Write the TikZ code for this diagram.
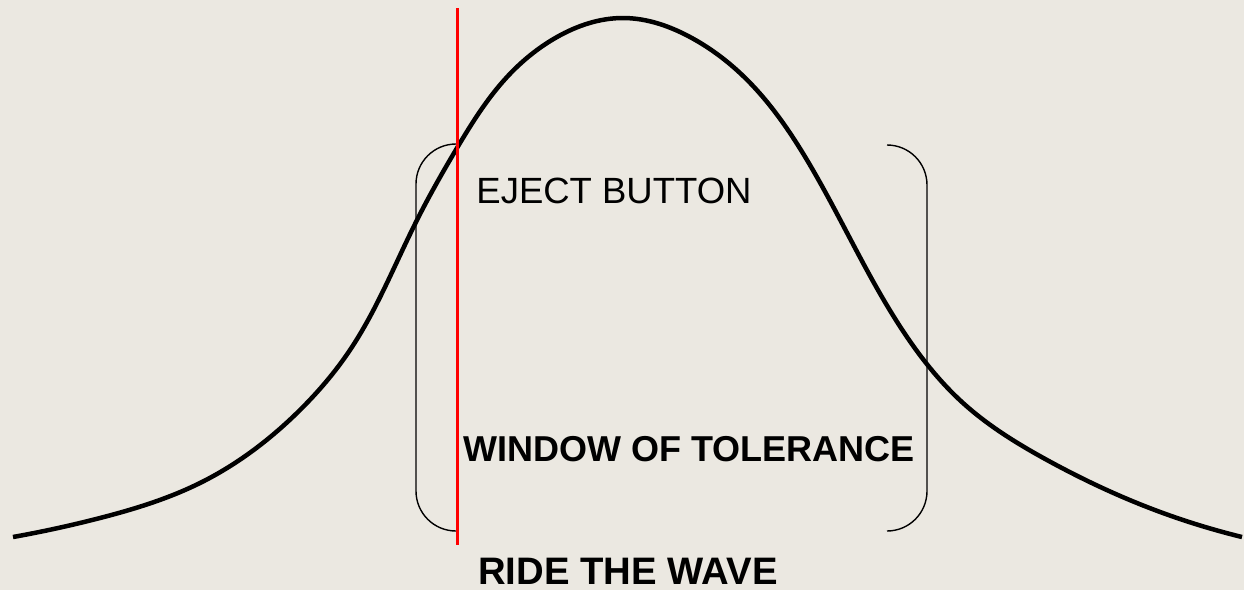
\documentclass[tikz,border=0pt]{standalone}
\usepackage{fontspec}
\setmainfont{Liberation Sans}
\usetikzlibrary{hobby}
\definecolor{paper}{HTML}{EBE8E1}
\definecolor{ejectred}{HTML}{FF0000}
\begin{document}
\begin{tikzpicture}[
		x=1pt, y=-1pt,
		wave/.style={line width=4.5pt, line join=round, use Hobby shortcut},
		bracket/.style={line width=1.4pt, rounded corners=40pt},
		label/.style={anchor=base, inner sep=0pt, font=\fontsize{36.5}{40}\selectfont},
		]
		\fill[paper] (0,0) rectangle (1244,590);
		\useasboundingbox (0,0) rectangle (1244,590);
		% the wave
		\draw[wave] (13,537) .. (100,518) .. (200,483) .. (300,410) .. (350,350)
			.. (416,222) .. (457,148) .. (507,77) .. (557,37) .. (623,18) .. (690,37)
			.. (740,73) .. (807,160) .. (907,337) .. (963,403)
			.. (1047,460) .. (1147,507) .. (1242,537);
		% window brackets
		\draw[bracket] (455,144) -| (416,531) -- (455,531);
		\draw[bracket] (887,145) -| (927,531) -- (887,531);
		% eject line
		\draw[ejectred, line width=3pt] (457,8) -- (457,545);
		\node[label] (eject) at (614,203) {EJECT BUTTON};
		\node[label, font=\fontsize{36}{40}\selectfont\bfseries] (window) at (689,461) {WINDOW OF TOLERANCE};
		\node[label, font=\fontsize{38.3}{40}\selectfont\bfseries] (ride) at (628,584) {RIDE THE WAVE};
	\end{tikzpicture}
\end{document}
